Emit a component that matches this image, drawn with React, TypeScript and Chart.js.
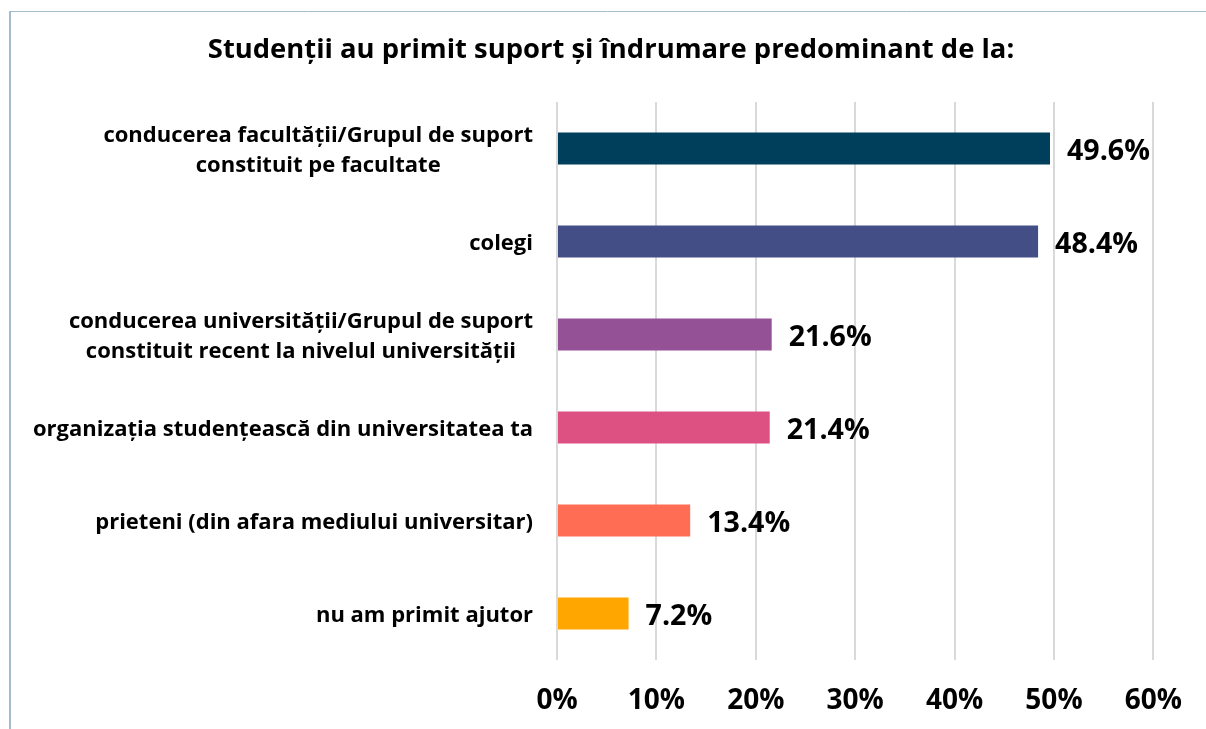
import React, { useEffect, useRef } from "react";
import { Chart, registerables } from "chart.js";

Chart.register(...registerables);

const TITLE = "Studenții au primit suport și îndrumare predominant de la:";
const CATEGORIES: string[][] = [
  ["conducerea facultății/Grupul de suport", "constituit pe facultate"],
  ["colegi"],
  ["conducerea universității/Grupul de suport", "constituit recent la nivelul universității"],
  ["organizația studențească din universitatea ta"],
  ["prieteni (din afara mediului universitar)"],
  ["nu am primit ajutor"],
];
const VALUES = [49.6, 48.4, 21.6, 21.4, 13.4, 7.2];
const COLORS = ["#003f5c", "#444e86", "#955196", "#dd5182", "#ff6e54", "#ffa600"];
const X_TICKS_MAX = 60;
const X_STEP = 10;

const FONT = "'Open Sans', 'Noto Sans', sans-serif";

const framePlugin = {
  id: "frame",
  beforeDraw(chart: any) {
    const ctx = chart.ctx;
    ctx.save();
    ctx.strokeStyle = "#a3bccc";
    ctx.lineWidth = 2;
    ctx.beginPath();
    ctx.moveTo(10, 11);
    ctx.lineTo(10, chart.height);
    ctx.stroke();
    ctx.lineWidth = 1;
    ctx.beginPath();
    ctx.moveTo(9, 11.5);
    ctx.lineTo(chart.width, 11.5);
    ctx.stroke();
    ctx.restore();
  },
};

const titlePlugin = {
  id: "customTitle",
  afterDraw(chart: any) {
    const ctx = chart.ctx;
    ctx.save();
    ctx.font = `bold 27.4px ${FONT}`;
    ctx.fillStyle = "#000";
    ctx.textAlign = "center";
    ctx.textBaseline = "middle";
    ctx.fillText(TITLE, 611, 50);
    ctx.restore();
  },
};

const yLabelPlugin = {
  id: "yLabels",
  afterDraw(chart: any) {
    const ctx = chart.ctx;
    const yScale = chart.scales.y;
    const right = chart.chartArea.left - 24;
    ctx.save();
    ctx.font = `bold 22px ${FONT}`;
    ctx.fillStyle = "#000";
    ctx.textAlign = "center";
    ctx.textBaseline = "middle";
    const lineH = 30;
    CATEGORIES.forEach((lines, i) => {
      const cy = yScale.getPixelForValue(i) + 2;
      const maxW = Math.max(...lines.map((l) => ctx.measureText(l).width));
      const cx = right - maxW / 2;
      const startY = cy - ((lines.length - 1) * lineH) / 2;
      lines.forEach((l, j) => ctx.fillText(l, cx, startY + j * lineH));
    });
    ctx.restore();
  },
};

const dataLabelPlugin = {
  id: "dataLabels",
  afterDatasetsDraw(chart: any) {
    const ctx = chart.ctx;
    const meta = chart.getDatasetMeta(0);
    ctx.save();
    ctx.font = `bold 28.6px ${FONT}`;
    ctx.fillStyle = "#000";
    ctx.textAlign = "left";
    ctx.textBaseline = "middle";
    meta.data.forEach((bar: any, i: number) => {
      ctx.fillText(VALUES[i].toFixed(1) + "%", bar.x + 17, bar.y + 3);
    });
    ctx.restore();
  },
};

export default function App() {
  const ref = useRef<HTMLCanvasElement>(null);
  useEffect(() => {
    if (!ref.current) return;
    const chart = new Chart(ref.current, {
      type: "bar",
      data: {
        labels: CATEGORIES.map((c) => c.join(" ")),
        datasets: [
          {
            data: VALUES,
            backgroundColor: COLORS,
            categoryPercentage: 1,
            barPercentage: 0.345,
          },
        ],
      },
      options: {
        indexAxis: "y",
        animation: false,
        responsive: true,
        maintainAspectRatio: false,
        layout: { padding: { left: 0, right: 51, top: 102, bottom: 13 } },
        plugins: {
          legend: { display: false },
          title: { display: false },
          tooltip: { enabled: false },
        },
        scales: {
          x: {
            min: 0,
            max: X_TICKS_MAX,
            grid: { color: "#d9d9d9", lineWidth: 2, drawTicks: false },
            border: { display: false },
            ticks: {
              stepSize: X_STEP,
              padding: 24,
              color: "#000",
              font: { family: FONT, size: 28, weight: "bold" },
              callback: (v: any) => v + "%",
            },
            afterFit: (s: any) => {
              s.height = 56;
            },
          },
          y: {
            grid: { display: false },
            border: { display: false },
            ticks: { color: "transparent", font: { size: 1 } },
            afterFit: (s: any) => {
              s.width = 557;
            },
          },
        },
      },
      plugins: [framePlugin, titlePlugin, yLabelPlugin, dataLabelPlugin],
    } as any);
    return () => chart.destroy();
  }, []);
  return (
    <div style={{ position: "fixed", left: 0, top: 0, width: 1206, height: 729, background: "#fff" }}>
      <canvas ref={ref} />
    </div>
  );
}
